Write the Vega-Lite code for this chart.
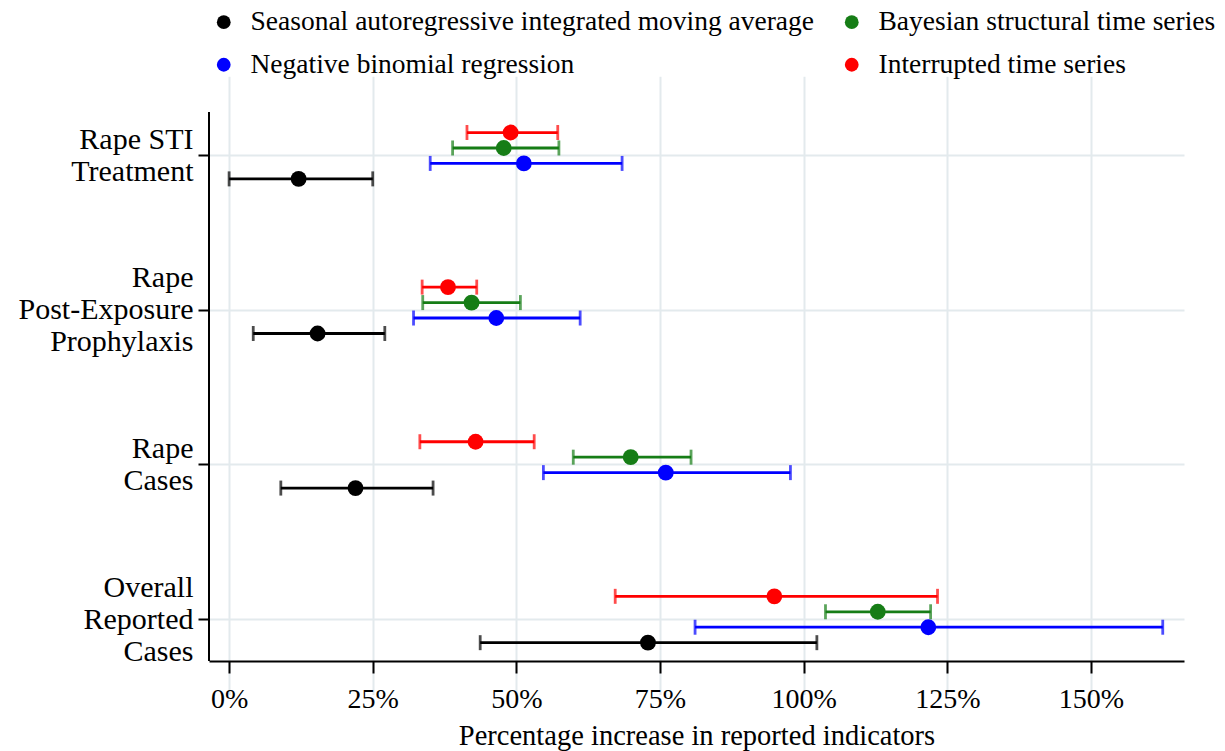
{
  "$schema": "https://vega.github.io/schema/vega-lite/v6.json",
  "autosize": {"type": "none"},
  "width": 975,
  "height": 549,
  "padding": {"left": 209, "top": 112, "right": 41, "bottom": 90},
  "background": "white",
  "config": {
    "font": "Liberation Serif",
    "view": {"stroke": null},
    "legend": {
      "title": null,
      "orient": "none",
      "legendX": 1,
      "legendY": -104,
      "columns": 2,
      "direction": "horizontal",
      "symbolType": "circle",
      "symbolSize": 190,
      "symbolStrokeWidth": 0,
      "symbolOpacity": 1,
      "labelFontSize": 27.5,
      "labelColor": "black",
      "labelOffset": 13,
      "labelLimit": 700,
      "rowPadding": 14,
      "columnPadding": 23,
      "padding": 0
    }
  },
  "data": {
    "values": [
      {"indicator": "Rape STI Treatment", "method": "Interrupted time series", "est": 49.0, "lo": 41.4, "hi": 57.2},
      {"indicator": "Rape STI Treatment", "method": "Bayesian structural time series", "est": 47.8, "lo": 38.9, "hi": 57.4},
      {"indicator": "Rape STI Treatment", "method": "Negative binomial regression", "est": 51.3, "lo": 35.0, "hi": 68.4},
      {"indicator": "Rape STI Treatment", "method": "Seasonal autoregressive integrated moving average", "est": 12.1, "lo": 0.0, "hi": 25.0},
      {"indicator": "Rape Post-Exposure Prophylaxis", "method": "Interrupted time series", "est": 38.1, "lo": 33.6, "hi": 43.1},
      {"indicator": "Rape Post-Exposure Prophylaxis", "method": "Bayesian structural time series", "est": 42.2, "lo": 33.7, "hi": 50.7},
      {"indicator": "Rape Post-Exposure Prophylaxis", "method": "Negative binomial regression", "est": 46.5, "lo": 32.1, "hi": 61.1},
      {"indicator": "Rape Post-Exposure Prophylaxis", "method": "Seasonal autoregressive integrated moving average", "est": 15.4, "lo": 4.2, "hi": 27.1},
      {"indicator": "Rape Cases", "method": "Interrupted time series", "est": 42.9, "lo": 33.2, "hi": 53.1},
      {"indicator": "Rape Cases", "method": "Bayesian structural time series", "est": 69.9, "lo": 59.9, "hi": 80.4},
      {"indicator": "Rape Cases", "method": "Negative binomial regression", "est": 76.0, "lo": 54.7, "hi": 97.7},
      {"indicator": "Rape Cases", "method": "Seasonal autoregressive integrated moving average", "est": 22.0, "lo": 9.0, "hi": 35.5},
      {"indicator": "Overall Reported Cases", "method": "Interrupted time series", "est": 94.9, "lo": 67.2, "hi": 123.3},
      {"indicator": "Overall Reported Cases", "method": "Bayesian structural time series", "est": 112.9, "lo": 103.8, "hi": 122.1},
      {"indicator": "Overall Reported Cases", "method": "Negative binomial regression", "est": 121.7, "lo": 81.1, "hi": 162.5},
      {"indicator": "Overall Reported Cases", "method": "Seasonal autoregressive integrated moving average", "est": 72.9, "lo": 43.7, "hi": 102.3}
    ]
  },
  "layer": [
    {
      "mark": {"type": "circle", "size": 250, "opacity": 1},
      "encoding": {
        "x": {
          "field": "est",
          "type": "quantitative",
          "scale": {"domain": [-3.5, 166.2], "nice": false, "zero": false},
          "axis": {
            "title": "Percentage increase in reported indicators",
            "titleFontSize": 28.5,
            "titleFontWeight": "normal",
            "titleColor": "black",
            "titlePadding": 8,
            "values": [0, 25, 50, 75, 100, 125, 150],
            "labelExpr": "datum.value + '%'",
            "labelFontSize": 28,
            "labelColor": "black",
            "labelPadding": 12,
            "grid": true,
            "gridColor": "#e3eaed",
            "gridWidth": 2,
            "domainColor": "black",
            "domainWidth": 2,
            "tickColor": "black",
            "tickWidth": 2,
            "tickSize": 12
          }
        },
        "y": {
          "field": "indicator",
          "type": "nominal",
          "sort": ["Rape STI Treatment", "Rape Post-Exposure Prophylaxis", "Rape Cases", "Overall Reported Cases"],
          "scale": {"range": [-33.6, 584.8], "paddingInner": 0, "paddingOuter": 0},
          "axis": {
            "title": null,
            "bandPosition": 0.5,
            "grid": true,
            "gridColor": "#e3eaed",
            "gridWidth": 2,
            "domain": false,
            "tickColor": "black",
            "tickWidth": 2,
            "tickSize": 11,
            "labelFontSize": 30,
            "labelColor": "black",
            "labelPadding": 5,
            "labelLineHeight": 32,
            "labelLimit": 300,
            "labelOffset": {"condition": {"test": "datum.value == 'Rape STI Treatment' || datum.value == 'Rape Cases'", "value": -16}, "value": -32},
            "labelExpr": "datum.label == 'Rape STI Treatment' ? ['Rape STI', 'Treatment'] : datum.label == 'Rape Post-Exposure Prophylaxis' ? ['Rape', 'Post-Exposure', 'Prophylaxis'] : datum.label == 'Rape Cases' ? ['Rape', 'Cases'] : ['Overall', 'Reported', 'Cases']"
          }
        },
        "yOffset": {
          "field": "method",
          "type": "nominal",
          "scale": {
            "domain": ["Interrupted time series", "Bayesian structural time series", "Negative binomial regression", "Seasonal autoregressive integrated moving average"],
            "range": [46.4, 108.2],
            "paddingInner": 0,
            "paddingOuter": 0
          }
        },
        "color": {
          "field": "method",
          "type": "nominal",
          "scale": {
            "domain": ["Seasonal autoregressive integrated moving average", "Bayesian structural time series", "Negative binomial regression", "Interrupted time series"],
            "range": ["#000000", "#167d16", "#0000ff", "#ff0000"]
          }
        }
      }
    },
    {
      "mark": {"type": "rule", "strokeWidth": 2.8},
      "encoding": {
        "x": {"field": "lo", "type": "quantitative"},
        "x2": {"field": "hi"},
        "y": {"field": "indicator", "type": "nominal", "sort": ["Rape STI Treatment", "Rape Post-Exposure Prophylaxis", "Rape Cases", "Overall Reported Cases"]},
        "yOffset": {"field": "method", "type": "nominal"},
        "color": {"field": "method", "type": "nominal"}
      }
    },
    {
      "mark": {"type": "tick", "orient": "vertical", "size": 15, "thickness": 2.8},
      "encoding": {
        "x": {"field": "lo", "type": "quantitative"},
        "y": {"field": "indicator", "type": "nominal", "sort": ["Rape STI Treatment", "Rape Post-Exposure Prophylaxis", "Rape Cases", "Overall Reported Cases"]},
        "yOffset": {"field": "method", "type": "nominal"},
        "color": {"field": "method", "type": "nominal"}
      }
    },
    {
      "mark": {"type": "tick", "orient": "vertical", "size": 15, "thickness": 2.8},
      "encoding": {
        "x": {"field": "hi", "type": "quantitative"},
        "y": {"field": "indicator", "type": "nominal", "sort": ["Rape STI Treatment", "Rape Post-Exposure Prophylaxis", "Rape Cases", "Overall Reported Cases"]},
        "yOffset": {"field": "method", "type": "nominal"},
        "color": {"field": "method", "type": "nominal"}
      }
    },
    {
      "mark": {"type": "rule", "strokeWidth": 2, "color": "black"},
      "encoding": {"x": {"datum": -3.5}}
    }
  ]
}
